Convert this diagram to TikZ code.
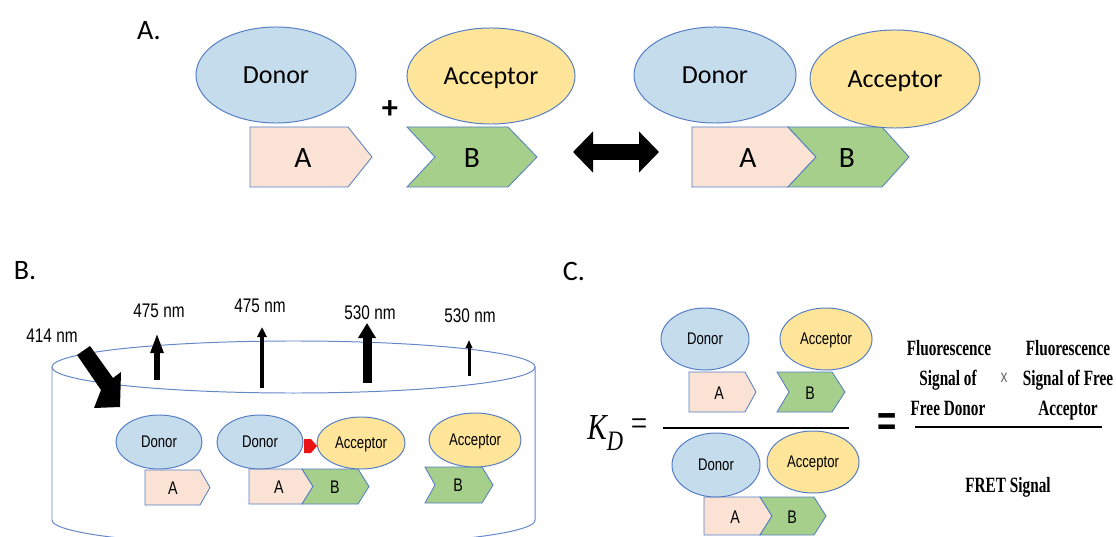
\documentclass[tikz,border=0pt]{standalone}
\usepackage{fontspec}
\setmainfont{Carlito}
\newfontfamily\narrowsans[FakeStretch=0.78]{Liberation Sans}
\newfontfamily\condserif[FakeStretch=0.7]{Liberation Serif}
\newfontfamily\kfont[FakeStretch=0.8]{Liberation Serif}
\usetikzlibrary{shapes.geometric,arrows.meta}
\definecolor{donorfill}{RGB}{197,220,236}
\definecolor{accfill}{RGB}{255,229,153}
\definecolor{afill}{RGB}{250,226,212}
\definecolor{bfill}{RGB}{165,207,138}
\definecolor{edgeblue}{RGB}{84,125,196}
\definecolor{cylblue}{RGB}{100,135,200}
\definecolor{markred}{RGB}{235,20,20}
\newcommand{\apiece}[5]{%
  \filldraw[fill=afill, draw=edgeblue, line width=0.6pt] (#1,#4) -- (#2,#4) -- (#3,{(#4+#5)/2}) -- (#2,#5) -- (#1,#5) -- cycle;}
\newcommand{\bpiece}[6]{%
  \filldraw[fill=bfill, draw=edgeblue, line width=0.6pt] (#1,#5) -- (#3,#5) -- (#4,{(#5+#6)/2}) -- (#3,#6) -- (#1,#6) -- (#2,{(#5+#6)/2}) -- cycle;}
\begin{document}
\begin{tikzpicture}[x=0.025cm,y=-0.025cm,
  mol/.style={ellipse, draw=edgeblue, line width=0.7pt, inner sep=0pt, text depth=0pt},
  donorbig/.style={mol, fill=donorfill, font=\fontsize{18.5}{20}\selectfont},
  accbig/.style={mol, fill=accfill, font=\fontsize{18.5}{20}\selectfont},
  donorsmall/.style={mol, fill=donorfill, font=\narrowsans\fontsize{12}{14}\selectfont},
  accsmall/.style={mol, fill=accfill, font=\narrowsans\fontsize{12}{14}\selectfont},
  blkbig/.style={inner sep=0pt, font=\fontsize{21}{23}\selectfont},
  blksmall/.style={inner sep=0pt, font=\narrowsans\fontsize{13}{15}\selectfont},
  panel/.style={inner sep=0pt, font=\fontsize{20}{22}\selectfont},
  nmlabel/.style={inner sep=0pt, font=\narrowsans\fontsize{14}{16}\selectfont},
  serifbf/.style={inner sep=0pt, anchor=base, font=\condserif\bfseries\fontsize{15.5}{17}\selectfont},
  cylstyle/.style={draw=cylblue, line width=0.7pt},
  fracline/.style={line width=2pt}
]
\useasboundingbox (0,0) rectangle (1116,537);
\clip (0,0) rectangle (1116,537);

% ---------------- Panel A ----------------
\node[panel] (labA) at (149,31) {A.};
\apiece{250}{348}{372}{127}{187}
\node[blkbig] (tA1) at (303,158) {A};
\bpiece{407}{435}{508}{537}{127}{187}
\node[blkbig] (tB1) at (472,158) {B};
\apiece{692}{788}{816}{127}{187}
\bpiece{788}{816}{882}{909}{127}{187}
\node[blkbig] (tA2) at (748,158) {A};
\node[blkbig] (tB2) at (847,158) {B};
\node[donorbig, minimum width=4cm, minimum height=2.4cm] (d1) at (276,75) {Donor};
\node[accbig, minimum width=4.2cm, minimum height=2.4cm] (a1) at (491,76) {Acceptor};
\node[donorbig, minimum width=4.05cm, minimum height=2.4cm] (d2) at (715,75) {Donor};
\node[accbig, minimum width=4.25cm, minimum height=2.45cm] (a2) at (895,79) {Acceptor};
\node[inner sep=0pt, font=\bfseries\fontsize{23}{25}\selectfont] (plus) at (390,110) {+};
\coordinate (dl) at (573,152);
\coordinate (dr) at (659,152);
\draw[line width=0.375cm, {Triangle[width=1cm,length=0.5cm]}-{Triangle[width=1cm,length=0.5cm]}] (dl) -- (dr);

% ---------------- Panel B ----------------
\node[panel] (labB) at (25,271) {B.};
\draw[cylstyle] (293.5,367) ellipse [x radius=6.0375cm, y radius=0.65cm];
\draw[cylstyle] (52,367) -- (52,520) arc[start angle=180, end angle=360, x radius=6.0375cm, y radius=0.65cm] -- (535,367);

\apiece{145}{200}{210}{470}{505}
\node[blksmall] (bA1) at (173,488) {A};
\apiece{249}{302}{313}{469}{504}
\bpiece{302}{313}{358}{369}{469}{504}
\node[blksmall] (bA2) at (279,487) {A};
\node[blksmall] (bB2) at (335,487) {B};
\bpiece{425}{435}{482}{493}{467}{503}
\node[blksmall] (bB3) at (458,485) {B};
\fill[markred] (304,439) -- (311,439) -- (317,446) -- (311,453) -- (304,453) -- cycle;
\node[donorsmall, minimum width=2.15cm, minimum height=1.35cm] (bd1) at (159,442) {Donor};
\node[donorsmall, minimum width=2.15cm, minimum height=1.35cm] (bd2) at (260,442) {Donor};
\node[accsmall, minimum width=2.2cm, minimum height=1.3cm] (ba2) at (361,443) {Acceptor};
\node[accsmall, minimum width=2.3cm, minimum height=1.35cm] (ba3) at (475,440) {Acceptor};

% excitation arrow
\fill[black] (77,355) -- (90,346) -- (113,378) -- (121,372) -- (120,407) -- (94,408) -- (101,390) -- cycle;
% emission arrows
\coordinate (u1s) at (157,380); \coordinate (u1e) at (157,333);
\coordinate (u2s) at (262,388); \coordinate (u2e) at (262,327);
\coordinate (u3s) at (367,383); \coordinate (u3e) at (367,323);
\coordinate (u4s) at (469,376); \coordinate (u4e) at (469,340);
\draw[line width=0.15cm, -{Triangle[width=0.3cm,length=0.5cm]}] (u1s) -- (u1e);
\draw[line width=0.1cm, -{Triangle[width=0.225cm,length=0.25cm]}] (u2s) -- (u2e);
\draw[line width=0.225cm, -{Triangle[width=0.425cm,length=0.375cm]}] (u3s) -- (u3e);
\draw[line width=0.075cm, -{Triangle[width=0.16cm,length=0.2cm]}] (u4s) -- (u4e);

\node[nmlabel] (n414) at (52,335.5) {414 nm};
\node[nmlabel] (n475a) at (159,310.5) {475 nm};
\node[nmlabel] (n475b) at (260,305.5) {475 nm};
\node[nmlabel] (n530a) at (370,312.5) {530 nm};
\node[nmlabel] (n530b) at (470,316) {530 nm};

% ---------------- Panel C ----------------
\node[panel] (labC) at (574,271) {C.};
\node[inner sep=0pt, font=\kfont\itshape\fontsize{26}{28}\selectfont] (kK) at (597,428) {K};
\node[inner sep=0pt, font=\kfont\itshape\fontsize{20}{22}\selectfont] (kD) at (615,441) {D};
\node[inner sep=0pt, font=\kfont\fontsize{26}{28}\selectfont] (keq) at (639,427) {=};
\coordinate (f1l) at (663,428); \coordinate (f1r) at (849,428);
\draw[fracline] (f1l) -- (f1r);

\apiece{689}{745}{756}{372}{412}
\node[blksmall] (cA1) at (719,393) {A};
\bpiece{777}{789}{832}{845}{372}{412}
\node[blksmall] (cB1) at (810,393) {B};
\apiece{704}{760}{772}{497}{535}
\bpiece{760}{772}{814}{826}{497}{535}
\node[blksmall] (cA2) at (735,517) {A};
\node[blksmall] (cB2) at (792,517) {B};
\node[donorsmall, minimum width=2.2cm, minimum height=1.55cm] (cd1) at (705,339) {Donor};
\node[accsmall, minimum width=2.3cm, minimum height=1.55cm] (ca1) at (826,339) {Acceptor};
\node[donorsmall, minimum width=2.2cm, minimum height=1.6cm] (cd2) at (716,465) {Donor};
\node[accsmall, minimum width=2.3cm, minimum height=1.55cm] (ca2) at (813,462) {Acceptor};

\node[inner sep=0pt, font=\narrowsans\bfseries\fontsize{30}{32}\selectfont] (eq2) at (887,425) {=};
\node[serifbf] (f1a) at (949,355) {Fluorescence};
\node[serifbf] (f1b) at (948,385) {Signal of};
\node[serifbf] (f1c) at (948,415) {Free Donor};
\node[inner sep=0pt, text=black!60, font=\narrowsans\fontsize{12.5}{14}\selectfont] (times) at (1004,378) {x};
\node[serifbf] (f2a) at (1068,355) {Fluorescence};
\node[serifbf] (f2b) at (1068,385) {Signal of Free};
\node[serifbf] (f2c) at (1068,415) {Acceptor};
\coordinate (f2l) at (915,427); \coordinate (f2r) at (1102,427);
\draw[fracline] (f2l) -- (f2r);
\node[serifbf] (fret) at (1008,492) {FRET Signal};
\end{tikzpicture}
\end{document}
